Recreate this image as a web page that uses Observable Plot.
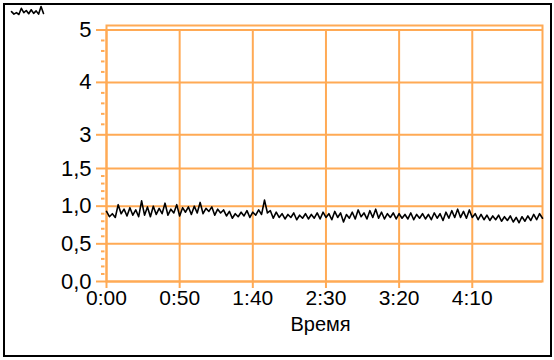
<!DOCTYPE html>
<html><head><meta charset="utf-8">
<script src="https://cdn.jsdelivr.net/npm/d3@7"></script>
<script src="https://cdn.jsdelivr.net/npm/@observablehq/plot@0.6"></script>
<style>
body{margin:0;background:#fff;}
#wrap{position:relative;width:554px;height:360px;overflow:hidden;font-family:Arial,"Liberation Sans",sans-serif;}
#border{position:absolute;left:3px;top:3px;width:549px;height:354px;border:2px solid #000;box-sizing:border-box;pointer-events:none;}
#legend{position:absolute;left:10px;top:5px;}
#chart{position:absolute;left:0;top:0;}
</style></head><body>
<div id="wrap"><div id="chart"></div><div id="legend"></div><div id="border"></div></div>
<script>
const stepSeconds = 2;
const values = [
  0.93, 0.86, 0.90, 0.85, 1.02, 0.90, 0.96, 0.87, 0.98, 0.88,
  0.95, 0.86, 1.07, 0.88, 0.99, 0.86, 1.00, 0.89, 0.97, 0.90,
  1.04, 0.88, 0.96, 0.91, 1.02, 0.87, 0.98, 0.92, 0.99, 0.89,
  1.00, 0.91, 1.05, 0.90, 0.97, 0.93, 0.99, 0.88, 0.96, 0.91,
  0.95, 0.87, 0.93, 0.84, 0.90, 0.86, 0.92, 0.87, 0.94, 0.85,
  0.92, 0.88, 0.95, 0.89, 1.08, 0.91, 0.94, 0.84, 0.92, 0.85,
  0.90, 0.83, 0.89, 0.85, 0.91, 0.82, 0.88, 0.84, 0.90, 0.83,
  0.89, 0.84, 0.91, 0.83, 0.92, 0.85, 0.90, 0.82, 0.93, 0.85,
  0.91, 0.79, 0.89, 0.84, 0.92, 0.83, 0.95, 0.86, 0.91, 0.83,
  0.94, 0.85, 0.96, 0.84, 0.92, 0.83, 0.90, 0.85, 0.91, 0.83,
  0.90, 0.84, 0.89, 0.83, 0.91, 0.82, 0.89, 0.84, 0.90, 0.83,
  0.89, 0.82, 0.91, 0.84, 0.90, 0.81, 0.92, 0.84, 0.94, 0.85,
  0.96, 0.85, 0.93, 0.84, 0.95, 0.85, 0.90, 0.82, 0.89, 0.82,
  0.88, 0.81, 0.87, 0.82, 0.88, 0.80, 0.86, 0.81, 0.87, 0.79,
  0.85, 0.78, 0.86, 0.80, 0.87, 0.81, 0.89, 0.82, 0.90, 0.84
];
const xTicks = [0, 50, 100, 150, 200, 250];
const xTickLabels = ["0:00", "0:50", "1:40", "2:30", "3:20", "4:10"];
const yTicks = [0, 0.5, 1, 1.5, 3, 4, 5];
const yTickLabels = ["0,0", "0,5", "1,0", "1,5", "3", "4", "5"];
const yMinorTicks = [0.1, 0.2, 0.3, 0.4, 0.6, 0.7, 0.8, 0.9, 1.1, 1.2, 1.3, 1.4,
                     3.2, 3.4, 3.6, 3.8, 4.2, 4.4, 4.6, 4.8];
const xLabel = "Время";

const orange = "#ffaa55";
const font = "Arial, 'Liberation Sans', sans-serif";
const data = values.map((v, i) => ({t: i * stepSeconds, v}));

const chart = Plot.plot({
  width: 554, height: 360,
  marginLeft: 106, marginRight: 12, marginTop: 25, marginBottom: 79,
  style: {fontFamily: font, fontSize: "21px", background: "transparent", color: "#000", overflow: "visible"},
  x: {domain: [0, 298]},
  y: {type: "linear", domain: [0, 1.5, 3, 5], range: [281, 168, 134.3, 29.5]},
  marks: [
    Plot.gridY(yTicks, {stroke: orange, strokeOpacity: 1, strokeWidth: 2}),
    Plot.ruleX(xTicks, {y1: 0, y2: 5, stroke: orange, strokeWidth: 2}),
    Plot.frame({stroke: orange, strokeWidth: 2}),
    Plot.axisY(yMinorTicks, {tickSize: 3.5, dx: -1.5, tickFormat: () => "", label: null, stroke: orange, strokeWidth: 2}),
    Plot.axisY(yTicks, {tickSize: 10, tickPadding: 5, tickFormat: d => yTickLabels[yTicks.indexOf(d)], label: null, stroke: orange, fill: "#000", strokeWidth: 2, fontSize: 22}),
    Plot.axisX(xTicks, {tickSize: 7, tickPadding: 2, tickFormat: d => xTickLabels[xTicks.indexOf(d)], label: null, stroke: orange, fill: "#000", strokeWidth: 2, fontSize: 21}),
    Plot.text([xLabel], {frameAnchor: "bottom", dx: -4, dy: 49, text: d => d, fontSize: 20, fill: "#000"}),
    Plot.lineY(data, {x: "t", y: "v", stroke: "#000", strokeWidth: 1.6})
  ]
});
document.getElementById("chart").append(chart);

const legend = Plot.plot({
  width: 34, height: 10, margin: 1,
  style: {background: "transparent", overflow: "visible"},
  x: {axis: null}, y: {axis: null},
  marks: [Plot.lineY(values.slice(0, 14), {stroke: "#000", strokeWidth: 1.6})]
});
document.getElementById("legend").append(legend);
</script>
</body></html>
